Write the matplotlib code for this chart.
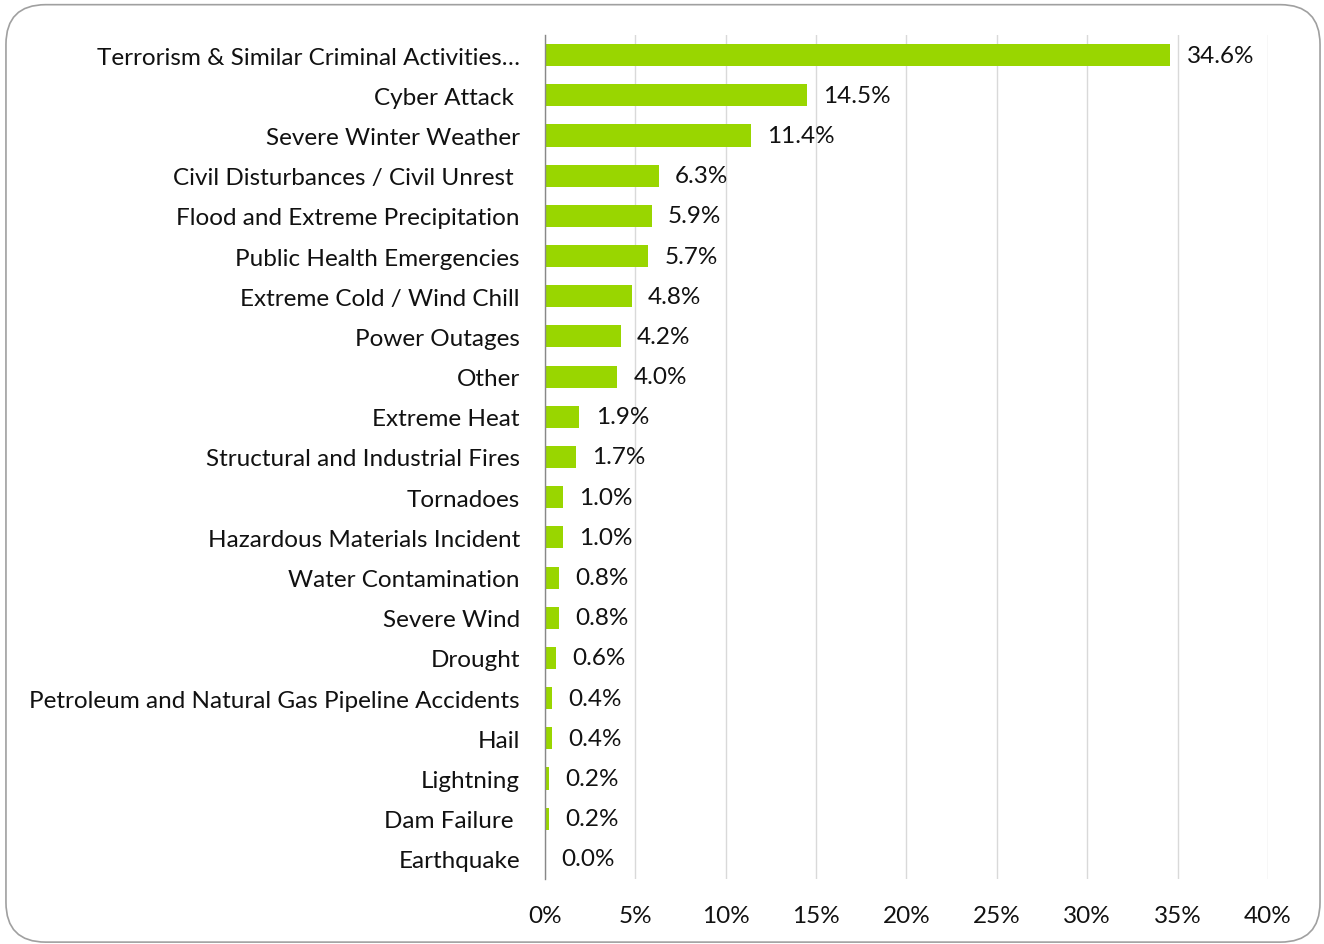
import matplotlib
matplotlib.use('Agg')
import matplotlib.pyplot as plt
from matplotlib.patches import FancyBboxPatch
from matplotlib.ticker import FuncFormatter

plt.rcParams['font.family'] = ['Lato', 'DejaVu Sans']

categories = ['Terrorism & Similar Criminal Activities…', 'Cyber Attack ', 'Severe Winter Weather',
              'Civil Disturbances / Civil Unrest ', 'Flood and Extreme Precipitation',
              'Public Health Emergencies', 'Extreme Cold / Wind Chill', 'Power Outages', 'Other',
              'Extreme Heat', 'Structural and Industrial Fires', 'Tornadoes',
              'Hazardous Materials Incident', 'Water Contamination', 'Severe Wind', 'Drought',
              'Petroleum and Natural Gas Pipeline Accidents', 'Hail', 'Lightning', 'Dam Failure ',
              'Earthquake']
values = [34.6, 14.5, 11.4, 6.3, 5.9, 5.7, 4.8, 4.2, 4.0, 1.9, 1.7, 1.0, 1.0, 0.8, 0.8, 0.6,
          0.4, 0.4, 0.2, 0.2, 0.0]
xticks = [0, 5, 10, 15, 20, 25, 30, 35, 40]

fig = plt.figure(figsize=(13.24, 9.45), dpi=100)
ax = fig.add_axes([0.4116, 0.0688, 0.5461, 0.8931])

border = FancyBboxPatch((0.0045, 0.002), 0.9925, 0.992, boxstyle='round,pad=0,rounding_size=0.03',
                        transform=fig.transFigure, facecolor='none', edgecolor='#a0a0a0',
                        linewidth=1.2, mutation_aspect=1324 / 945)
fig.patches.append(border)

ypos = list(range(len(categories)))
ax.barh(ypos, values, height=0.55, color='#99d600', zorder=3)
for y, v in zip(ypos, values):
    ax.text(v + 0.9, y, f'{v:.1f}%', va='center', ha='left', fontsize=17.5, color='#111111')

ax.set_ylim(len(categories) - 0.5, -0.5)
ax.set_xlim(0, 40)
ax.set_yticks(ypos)
ax.set_yticklabels(categories, fontsize=17.5, color='#111111')
ax.set_xticks(xticks)
ax.xaxis.set_major_formatter(FuncFormatter(lambda x, p: f'{x:.0f}%'))
ax.tick_params(axis='x', length=0, pad=19, labelsize=17.5, labelcolor='#111111')
ax.tick_params(axis='y', length=0, pad=18)
ax.grid(axis='x', color='#d9d9d9', linewidth=1, zorder=0)
for s in ['top', 'right', 'bottom']:
    ax.spines[s].set_visible(False)
ax.spines['left'].set_color('#888888')
ax.spines['left'].set_linewidth(1)
ax.spines['left'].set_zorder(4)

fig.savefig('out.png', dpi=100)
